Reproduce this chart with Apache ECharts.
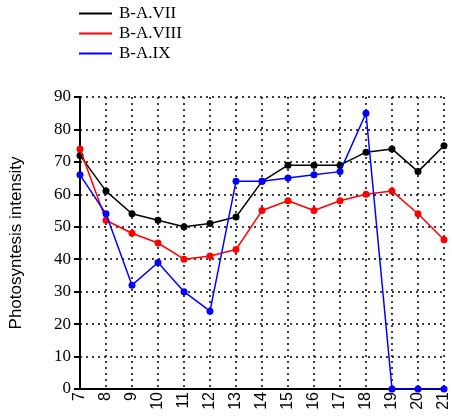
<!DOCTYPE html>
<html><head><meta charset="utf-8">
<script src="https://cdn.jsdelivr.net/npm/echarts@6/dist/echarts.min.js"></script>
<style>html,body{margin:0;padding:0;background:#fff}#c{width:452px;height:416px}</style>
</head><body><div id="c"></div>
<script>
const categories = ['7','8','9','10','11','12','13','14','15','16','17','18','19','20','21'];
const seriesNames = ['B-A.VII','B-A.VIII','B-A.IX'];
const vii  = [72,61,54,52,50,51,53,64,69,69,69,73,74,67,75];
const viii = [74,52,48,45,40,41,43,55,58,55,58,60,61,54,46];
const ix   = [66,54,32,39,30,24,64,64,65,66,67,85,0,0,0];
const colors = ['#000000','#ff0000','#0000ff'];
const yTicks = {min:0, max:90, interval:10};
const chart = echarts.init(document.getElementById('c'));
const mk = (name, data, color, z) => ({
  name, type:'line', data, z,
  symbol:'circle', symbolSize:7,
  lineStyle:{color, width:1.5}, itemStyle:{color},
  emphasis:{disabled:true}, animation:false
});
chart.setOption({
  animation:false,
  legend:{
    orient:'vertical', left:79, top:5, itemGap:3, padding:0,
    itemWidth:33, itemHeight:15, icon:'path://M0,6L33,6L33,8L0,8Z',
    textStyle:{fontFamily:'Liberation Serif', fontSize:17, color:'#000', padding:[0,0,0,2]},
    data:seriesNames.map((n,i)=>({name:n, itemStyle:{color:colors[i]}}))
  },
  grid:{left:80, right:8, top:97, bottom:27, containLabel:false},
  xAxis:{
    type:'category', data:categories, boundaryGap:false,
    axisLine:{lineStyle:{color:'#000', width:2}},
    axisTick:{show:false},
    axisLabel:{rotate:90, fontFamily:'Liberation Sans', fontSize:16, color:'#000', margin:3, interval:0},
    splitLine:{show:true, lineStyle:{type:[2,4], color:'#000', width:1.5}}
  },
  yAxis:{
    type:'value', min:yTicks.min, max:yTicks.max, interval:yTicks.interval,
    name:'Photosyntesis intensity', nameLocation:'middle', nameGap:55,
    nameTextStyle:{fontFamily:'Liberation Sans', fontSize:17, color:'#000'},
    axisLine:{show:true, lineStyle:{color:'#000', width:2}},
    axisTick:{show:true, length:6, lineStyle:{color:'#000', width:2}},
    axisLabel:{fontFamily:'Liberation Serif', fontSize:17, color:'#000', margin:9},
    splitLine:{show:true, lineStyle:{type:[2,4], color:'#000', width:1.5}}
  },
  series:[mk(seriesNames[0], vii, colors[0], 3), mk(seriesNames[1], viii, colors[1], 4), mk(seriesNames[2], ix, colors[2], 5)]
});
</script></body></html>
